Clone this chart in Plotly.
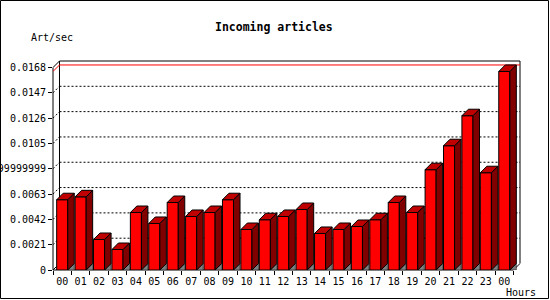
import plotly.graph_objects as go

# ---- data ----
hours = ["00", "01", "02", "03", "04", "05", "06", "07", "08", "09", "10", "11",
         "12", "13", "14", "15", "16", "17", "18", "19", "20", "21", "22", "23", "00"]
rate = [0.00583, 0.00607, 0.00253, 0.00170, 0.00477, 0.00386, 0.00560, 0.00444,
        0.00477, 0.00583, 0.00336, 0.00417, 0.00444, 0.00502, 0.00303, 0.00336,
        0.00361, 0.00417, 0.00560, 0.00477, 0.00832, 0.01031, 0.01280, 0.00807,
        0.01647]
ytick_vals = [0, 0.0021, 0.0042, 0.0063, 0.0084, 0.0105, 0.0126, 0.0147, 0.0168]
ytick_text = ["0", "0.0021", "0.0042", "0.0063", "0.00839999999999",
              "0.0105", "0.0126", "0.0147", "0.0168"]

# ---- geometry / style ----
W, H = 550, 300
ML, MR, MT, MB = 53, 30, 61, 30
PW = W - ML - MR
PH = H - MT - MB
DEPTH = 6.5          # pixels of 3D depth
BAR_W = 0.6
FONT = "DejaVu Sans Mono"
FRONT = "#ff0000"
SIDE = "#800000"
TOP = "#c00000"
FLOOR = "#808080"

n = len(rate)
x_lo = -0.5
x_span = n / (1 - DEPTH / PW)
x_hi = x_lo + x_span
dxu = DEPTH * x_span / PW
y_hi = ytick_vals[-1] / (1 - DEPTH / PH)
dyu = DEPTH * y_hi / PH


def px_x(p):
    return (p - ML) / PW


def px_y(p):
    return (MT + PH - p) / PH


fig = go.Figure()

# front faces
fig.add_trace(go.Bar(x=list(range(n)), y=rate, width=BAR_W,
                     marker=dict(color=FRONT, line=dict(color="black", width=1)),
                     hoverinfo="skip", showlegend=False))


def polys(fn):
    xs, ys = [], []
    for i, v in enumerate(rate):
        px, py = fn(i, v)
        xs += px + [px[0], None]
        ys += py + [py[0], None]
    return xs, ys


def tri(i, v):
    a = i + BAR_W / 2
    return [a, a + dxu, a + dxu], [0, dyu, 0]


def side(i, v):
    a = i + BAR_W / 2
    return [a, a + dxu, a + dxu, a], [0, dyu, v + dyu, v]


def top(i, v):
    a = i - BAR_W / 2
    b = i + BAR_W / 2
    return [a, b, b + dxu, a + dxu], [v, v, v + dyu, v + dyu]


for fn, col, lw in [(tri, FLOOR, 0.5), (side, SIDE, 1), (top, TOP, 1)]:
    xs, ys = polys(fn)
    fig.add_trace(go.Scatter(x=xs, y=ys, mode="lines", fill="toself",
                             fillcolor=col, line=dict(color="black", width=lw),
                             hoverinfo="skip", showlegend=False))

shapes = []
solid = dict(color="black", width=1)
dotted = dict(color="black", width=1, dash="2px,2px")
# back wall frame
shapes.append(dict(type="line", xref="x", yref="y", x0=x_lo + dxu, x1=x_lo + dxu,
                   y0=dyu, y1=y_hi, line=solid, layer="below"))
shapes.append(dict(type="line", xref="x", yref="paper", x0=x_lo + dxu, x1=x_hi,
                   y0=1, y1=1, line=solid, layer="below"))
shapes.append(dict(type="line", xref="paper", yref="y", x0=1, x1=1,
                   y0=dyu, y1=y_hi, line=solid, layer="below"))
# front axes
shapes.append(dict(type="line", xref="paper", yref="y", x0=0, x1=0,
                   y0=0, y1=ytick_vals[-1], line=solid, layer="below"))
shapes.append(dict(type="line", xref="x", yref="paper", x0=x_lo, x1=n - 0.5,
                   y0=0, y1=0, line=solid, layer="below"))
shapes.append(dict(type="line", xref="x", yref="y", x0=n - 0.5, x1=x_hi,
                   y0=0, y1=dyu, line=solid, layer="below"))
# gridlines + diagonal tick connectors
for k, v in enumerate(ytick_vals):
    edge = k == 0 or k == len(ytick_vals) - 1
    shapes.append(dict(type="line", xref="x", yref="y", x0=x_lo, x1=x_lo + dxu,
                       y0=v, y1=v + dyu, line=solid if edge else dotted, layer="below"))
    if not edge:
        shapes.append(dict(type="line", xref="x", yref="y", x0=x_lo + dxu, x1=x_hi,
                           y0=v + dyu, y1=v + dyu, line=dotted, layer="below"))
# maximum line
m = max(rate)
red = dict(color="red", width=1)
shapes.append(dict(type="line", xref="x", yref="y", x0=x_lo, x1=x_lo + dxu,
                   y0=m, y1=m + dyu, line=red, layer="below"))
shapes.append(dict(type="line", xref="x", yref="y", x0=x_lo + dxu, x1=x_hi,
                   y0=m + dyu, y1=m + dyu, line=red, layer="below"))
# outer border
shapes.append(dict(type="rect", xref="paper", yref="paper",
                   x0=px_x(0.5), x1=px_x(548.5), y0=px_y(298.5), y1=px_y(0.5),
                   line=solid, layer="above"))

annotations = [
    dict(text="<b>Incoming articles</b>", xref="paper", yref="paper",
         x=px_x(274), y=px_y(27), showarrow=False,
         font=dict(family=FONT, size=11.5, color="black"), xanchor="center", yanchor="middle"),
    dict(text="Art/sec", xref="paper", yref="paper", x=px_x(29), y=px_y(37),
         showarrow=False, font=dict(family=FONT, size=10, color="black"),
         xanchor="left", yanchor="middle"),
    dict(text="Hours", xref="paper", yref="paper", x=px_x(504), y=px_y(292),
         showarrow=False, font=dict(family=FONT, size=10, color="black"),
         xanchor="left", yanchor="middle"),
]

fig.update_layout(
    width=W, height=H,
    margin=dict(l=ML, r=MR, t=MT, b=MB, pad=0, autoexpand=False),
    paper_bgcolor="white", plot_bgcolor="white",
    shapes=shapes, annotations=annotations, showlegend=False,
    xaxis=dict(range=[x_lo, x_hi], tickmode="array", tickvals=list(range(n)),
               ticktext=hours, ticks="", showgrid=False, zeroline=False,
               showline=False, fixedrange=True, automargin=False,
               ticklabelstandoff=4,
               tickfont=dict(family=FONT, size=10, color="black"),
               minor=dict(tickmode="array", tickvals=[i - 0.5 for i in range(n + 1)],
                          ticks="outside", ticklen=4, tickcolor="black",
                          tickwidth=1, showgrid=False)),
    yaxis=dict(range=[0, y_hi], tickmode="array", tickvals=ytick_vals,
               ticktext=ytick_text, ticks="outside", ticklen=4, tickcolor="black",
               showgrid=False, zeroline=False, showline=False, fixedrange=True,
               automargin=False,
               tickfont=dict(family=FONT, size=10, color="black")),
)

fig.write_html("out.html")
